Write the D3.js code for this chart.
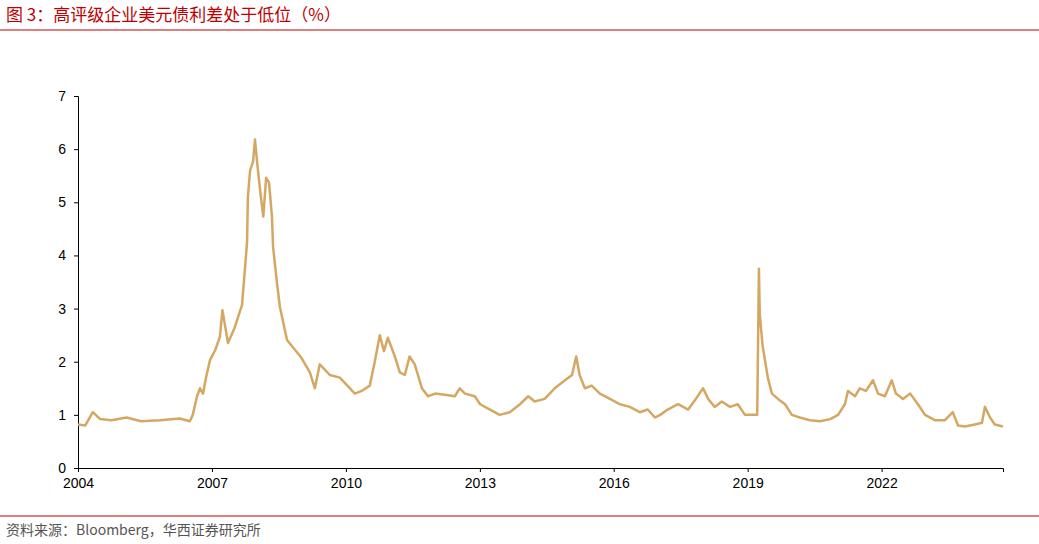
<!DOCTYPE html>
<html><head><meta charset="utf-8">
<script src="https://cdn.jsdelivr.net/npm/d3@7"></script>
<style>body{margin:0;background:#fff;font-family:"Noto Sans CJK SC","Liberation Sans",sans-serif}</style>
</head><body><div id="chart"></div>
<script>
// dates and values kept line-for-line in parallel
const dates = [
  "2004-01-01","2004-03-01","2004-05-01","2004-07-01","2004-10-01","2005-02-01","2005-06-01","2005-11-01",
  "2006-04-13","2006-07-04","2006-07-28","2006-09-01","2006-09-25","2006-10-20","2006-11-13","2006-12-16","2007-01-28","2007-03-07","2007-03-28","2007-05-12","2007-07-07","2007-09-04","2007-10-15","2007-10-22","2007-11-09","2007-12-03","2007-12-19","2008-01-06","2008-02-01","2008-02-25","2008-03-19","2008-04-12","2008-05-06","2008-05-15","2008-06-16","2008-07-10","2008-09-06","2008-12-28",
  "2009-03-12","2009-04-22","2009-06-01","2009-07-12","2009-08-22","2009-11-12","2010-02-03","2010-03-15","2010-05-10","2010-07-15","2010-08-25","2010-10-05","2010-11-08","2010-12-10","2011-02-05","2011-03-18","2011-04-28","2011-06-06","2011-07-18","2011-09-15","2011-11-03","2012-01-01","2012-03-20","2012-06-10","2012-07-20","2012-09-01","2012-11-20",
  "2013-01-03","2013-03-25","2013-06-12","2013-09-03","2013-11-25","2014-02-01","2014-03-25","2014-06-15","2014-09-05","2014-11-28","2015-01-25","2015-02-28","2015-03-28","2015-05-10","2015-07-05","2015-09-10","2015-12-01","2016-02-20","2016-05-12","2016-08-01","2016-10-06","2016-12-03","2017-01-15","2017-03-18","2017-06-10","2017-09-01","2017-11-03","2018-01-01","2018-02-12","2018-04-06","2018-06-03","2018-08-10","2018-10-12","2018-12-10","2019-02-15","2019-03-20","2019-04-03","2019-04-10","2019-05-03","2019-06-15","2019-07-18","2019-09-06","2019-11-03","2019-12-28",
  "2020-03-03","2020-05-25","2020-08-15","2020-11-06","2021-01-10","2021-03-06","2021-04-01","2021-05-28","2021-07-06","2021-08-25","2021-10-22","2021-12-03","2022-01-28","2022-03-25","2022-04-28","2022-06-25","2022-08-22","2022-10-25","2022-12-22","2023-03-12","2023-06-03","2023-08-06","2023-09-18","2023-11-12","2024-02-03","2024-04-01","2024-04-25","2024-06-06","2024-07-15","2024-09-20"
];
const spread = [
  0.82,0.80,1.05,0.92,0.90,0.95,0.88,0.90,
  0.93,0.88,1.00,1.35,1.50,1.40,1.70,2.03,2.22,2.47,2.97,2.35,2.65,3.07,4.24,5.10,5.60,5.76,6.18,5.74,5.18,4.73,5.46,5.37,4.73,4.16,3.48,3.03,2.41,2.09,
  1.80,1.50,1.95,1.85,1.75,1.70,1.50,1.40,1.45,1.55,2.00,2.50,2.20,2.45,2.10,1.80,1.75,2.10,1.95,1.50,1.35,1.40,1.38,1.35,1.50,1.40,1.35,
  1.20,1.10,1.00,1.05,1.20,1.35,1.25,1.30,1.50,1.65,1.75,2.10,1.75,1.50,1.55,1.40,1.30,1.20,1.15,1.05,1.10,0.95,1.00,1.10,1.20,1.10,1.30,1.50,1.30,1.15,1.25,1.15,1.20,1.00,1.00,1.00,3.75,2.90,2.30,1.70,1.40,1.30,1.20,1.00,
  0.95,0.90,0.88,0.92,1.00,1.20,1.45,1.35,1.50,1.45,1.65,1.40,1.35,1.65,1.40,1.30,1.40,1.20,1.00,0.90,0.90,1.05,0.80,0.78,0.82,0.85,1.15,0.95,0.82,0.78
];
const yTicks = [0,1,2,3,4,5,6,7];
const xTickYears = [2004,2007,2010,2013,2016,2019,2022];

const W = 1039, H = 544, red = "#C00000";
const svg = d3.select("#chart").append("svg").attr("width", W).attr("height", H);
const parse = d3.timeParse("%Y-%m-%d");
const pts = dates.map((d, i) => ({date: parse(d), v: spread[i]}));

const x = d3.scaleTime().domain([new Date(2004,0,1), parse("2024-09-20")]).range([78, 1003]);
const y = d3.scaleLinear().domain([0, 7]).range([468, 96]);

svg.append("text").attr("x", 6).attr("y", 21).attr("fill", red).attr("font-size", 17)
  .text("图 3：高评级企业美元债利差处于低位（%）");
svg.append("line").attr("x1", 0).attr("x2", W).attr("y1", 30).attr("y2", 30).attr("stroke", red).attr("stroke-width", 1.2);
svg.append("line").attr("x1", 0).attr("x2", W).attr("y1", 516).attr("y2", 516).attr("stroke", red).attr("stroke-width", 1.2);
svg.append("text").attr("x", 6).attr("y", 535).attr("fill", "#555").attr("font-size", 14)
  .text("资料来源：Bloomberg，华西证券研究所");

const yAxis = svg.append("g").attr("transform", "translate(78,0)")
  .call(d3.axisLeft(y).tickValues(yTicks).tickFormat(d3.format("d")).tickSize(4).tickPadding(8));
const xAxis = svg.append("g").attr("transform", "translate(0,468)")
  .call(d3.axisBottom(x).tickValues(xTickYears.map(t => new Date(t,0,1))).tickFormat(d3.timeFormat("%Y")).tickSize(4).tickPadding(6));
[yAxis, xAxis].forEach(g => {
  g.selectAll("path,line").attr("stroke", "#000");
  g.selectAll("text").attr("font-size", 14).attr("fill", "#000").attr("font-family", "Liberation Sans, Arial, sans-serif");
});

svg.append("path").datum(pts)
  .attr("fill", "none").attr("stroke", "#D4A862").attr("stroke-width", 2.5).attr("stroke-linejoin", "round")
  .attr("d", d3.line().x(d => x(d.date)).y(d => y(d.v)));
</script></body></html>
